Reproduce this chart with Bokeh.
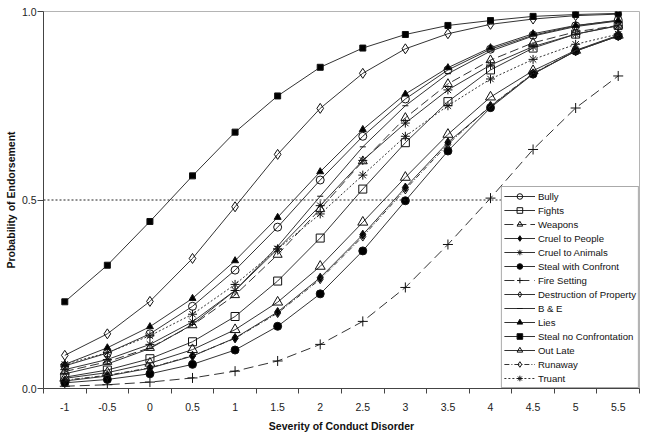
from bokeh.plotting import figure
from bokeh.models import FixedTicker, Span, Legend, LegendItem, Range1d, NumeralTickFormatter
from bokeh.embed import file_html
from bokeh.resources import INLINE

# ---- data ----
severity = [-1, -0.5, 0, 0.5, 1, 1.5, 2, 2.5, 3, 3.5, 4, 4.5, 5, 5.5]
x_tick_labels = ["-1", "-0.5", "0", "0.5", "1", "1.5", "2", "2.5", "3", "3.5", "4", "4.5", "5", "5.5"]
y_ticks = [0.0, 0.5, 1.0]

bully = [0.060, 0.094, 0.145, 0.218, 0.314, 0.428, 0.553, 0.669, 0.768, 0.845, 0.900, 0.937, 0.962, 0.977]
fights = [0.030, 0.049, 0.079, 0.124, 0.191, 0.285, 0.399, 0.529, 0.652, 0.761, 0.845, 0.903, 0.940, 0.963]
weapons = [0.045, 0.071, 0.108, 0.168, 0.248, 0.355, 0.476, 0.603, 0.718, 0.808, 0.871, 0.917, 0.946, 0.963]
cruel_people = [0.020, 0.033, 0.054, 0.086, 0.134, 0.203, 0.294, 0.408, 0.533, 0.653, 0.748, 0.835, 0.895, 0.935]
cruel_animals = [0.050, 0.077, 0.117, 0.177, 0.260, 0.370, 0.485, 0.605, 0.704, 0.792, 0.858, 0.907, 0.940, 0.962]
steal_confront = [0.015, 0.024, 0.039, 0.064, 0.102, 0.165, 0.251, 0.365, 0.498, 0.630, 0.745, 0.834, 0.895, 0.935]
fire_setting = [0.006, 0.010, 0.017, 0.028, 0.046, 0.073, 0.117, 0.178, 0.268, 0.382, 0.505, 0.634, 0.744, 0.829]
destruction = [0.088, 0.145, 0.231, 0.345, 0.482, 0.621, 0.743, 0.836, 0.901, 0.941, 0.966, 0.980, 0.989, 0.993]
b_and_e = [0.039, 0.065, 0.106, 0.170, 0.260, 0.377, 0.510, 0.641, 0.750, 0.835, 0.895, 0.935, 0.960, 0.975]
lies = [0.064, 0.108, 0.164, 0.239, 0.339, 0.454, 0.575, 0.687, 0.781, 0.851, 0.904, 0.941, 0.963, 0.976]
steal_no_conf = [0.230, 0.327, 0.443, 0.564, 0.680, 0.776, 0.852, 0.903, 0.939, 0.963, 0.976, 0.987, 0.992, 0.995]
out_late = [0.027, 0.042, 0.067, 0.103, 0.156, 0.229, 0.324, 0.441, 0.560, 0.674, 0.773, 0.843, 0.897, 0.937]
runaway = [0.022, 0.035, 0.055, 0.087, 0.133, 0.200, 0.290, 0.403, 0.528, 0.648, 0.750, 0.836, 0.896, 0.936]
truant = [0.064, 0.095, 0.140, 0.197, 0.276, 0.370, 0.463, 0.566, 0.669, 0.750, 0.821, 0.873, 0.913, 0.940]

series_names = ["Bully", "Fights", "Weapons", "Cruel to People", "Cruel to Animals",
                "Steal with Confront", "Fire Setting", "Destruction of Property", "B & E",
                "Lies", "Steal no Confrontation", "Out Late", "Runaway", "Truant"]
series_values = [bully, fights, weapons, cruel_people, cruel_animals, steal_confront,
                 fire_setting, destruction, b_and_e, lies, steal_no_conf, out_late, runaway, truant]

# ---- styles ----
styles = {
    "Bully": dict(marker="circle", size=8, filled=False, dash="solid"),
    "Fights": dict(marker="square", size=8, filled=False, dash="solid"),
    "Weapons": dict(marker="triangle", size=9, filled=False, dash="9 4"),
    "Cruel to People": dict(marker="diamond", size=9, filled=True, dash="solid"),
    "Cruel to Animals": dict(marker="asterisk", size=9, filled=False, dash="solid"),
    "Steal with Confront": dict(marker="circle", size=8, filled=True, dash="solid"),
    "Fire Setting": dict(marker="cross", size=10, filled=False, dash="10 5"),
    "Destruction of Property": dict(marker="diamond", size=10, filled=False, dash="solid"),
    "B & E": dict(marker="dash", size=6, filled=False, dash="solid"),
    "Lies": dict(marker="triangle", size=7, filled=True, dash="solid"),
    "Steal no Confrontation": dict(marker="square", size=6, filled=True, dash="solid"),
    "Out Late": dict(marker="triangle", size=10, filled=False, dash="solid"),
    "Runaway": dict(marker="diamond", size=9, filled=False, dash="5 2 1 2"),
    "Truant": dict(marker="asterisk", size=9, filled=False, dash="2 2"),
}

FONT = "Liberation Sans"

p = figure(width=649, height=434, output_backend="svg", toolbar_location=None,
           x_range=Range1d(-1.25, 5.75), y_range=Range1d(0, 1),
           min_border_left=43, min_border_right=10, min_border_top=11, min_border_bottom=43)
p.background_fill_color = "white"
p.border_fill_color = "white"
p.outline_line_color = "#b4b4b4"
p.outline_line_width = 1
p.xgrid.visible = False
p.ygrid.visible = False

# reference line at 0.5
p.add_layout(Span(location=0.5, dimension="width", line_color="#222222",
                  line_dash="2 2", line_width=1))

items = []
for name, vals in zip(series_names, series_values):
    st = styles[name]
    r_line = p.line(severity, vals, line_color="#333333", line_width=1, line_dash=st["dash"])
    fill = "black" if st["filled"] else None
    r_sc = p.scatter(severity, vals, marker=st["marker"], size=st["size"],
                     line_color="#111111", line_width=1,
                     fill_color=fill, fill_alpha=1.0 if st["filled"] else 0.0)
    items.append(LegendItem(label=name, renderers=[r_line, r_sc]))

legend = Legend(items=items, location="bottom_right")
legend.label_text_font = FONT
legend.label_text_font_size = "9.6px"
legend.label_text_color = "#111111"
legend.label_height = 14
legend.glyph_height = 14
legend.glyph_width = 31
legend.label_standoff = 3
legend.spacing = 0
legend.padding = 2
legend.margin = 0
legend.border_line_color = "#555555"
legend.border_line_width = 1
legend.background_fill_color = "white"
legend.background_fill_alpha = 1.0
p.add_layout(legend)

# x axis: labels at category centres, ticks at category boundaries
boundaries = [v - 0.25 for v in severity] + [severity[-1] + 0.25]
p.xaxis.ticker = FixedTicker(ticks=severity, minor_ticks=boundaries)
p.xaxis.major_label_overrides = {v: lab for v, lab in zip(severity, x_tick_labels)}
p.xaxis.major_tick_out = 0
p.xaxis.major_tick_in = 0
p.xaxis.minor_tick_out = 5
p.xaxis.minor_tick_in = 0
p.xaxis.major_label_standoff = 9
p.xaxis.axis_label = "Severity of Conduct Disorder"
p.xaxis.axis_label_standoff = 6

p.yaxis.ticker = FixedTicker(ticks=y_ticks)
p.yaxis.formatter = NumeralTickFormatter(format="0.0")
p.yaxis.major_tick_out = 6
p.yaxis.major_tick_in = 0
p.yaxis.minor_tick_out = 0
p.yaxis.minor_tick_in = 0
p.yaxis.major_label_standoff = 1
p.yaxis.axis_label = "Probability of Endorsement"
p.yaxis.axis_label_standoff = 2

for ax in (p.xaxis[0], p.yaxis[0]):
    ax.axis_line_color = "#444444"
    ax.major_tick_line_color = "#444444"
    ax.minor_tick_line_color = "#444444"
    ax.major_label_text_font = FONT
    ax.major_label_text_font_size = "10.5px"
    ax.major_label_text_color = "#222222"
    ax.axis_label_text_font = FONT
    ax.axis_label_text_font_size = "10.5px"
    ax.axis_label_text_font_style = "bold"
    ax.axis_label_text_color = "#111111"

open("out.html", "w").write(file_html(p, INLINE))
